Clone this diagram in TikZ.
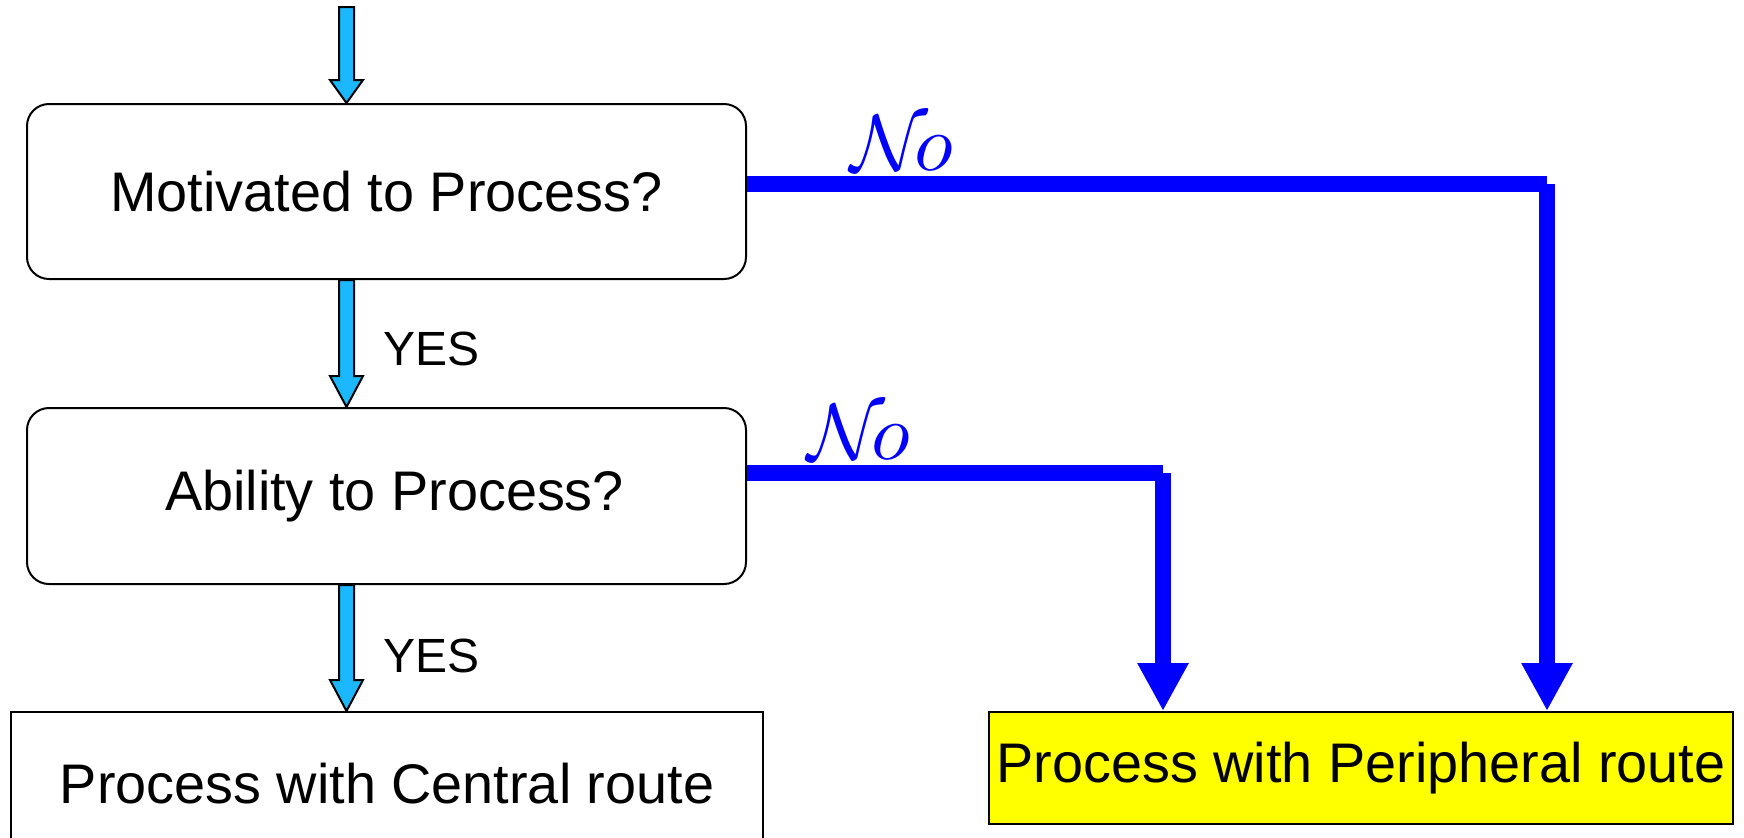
\documentclass[tikz,border=0pt]{standalone}
\usepackage{fontspec}
\setmainfont{Liberation Sans}
\usetikzlibrary{arrows.meta,calc}
\definecolor{skyblue}{RGB}{28,184,255}
\definecolor{pureblue}{RGB}{0,0,255}
\definecolor{brightyellow}{RGB}{255,255,0}

% outlined block arrow pointing down from #1 to #2; #3 = head length
\newcommand\feedarrow[3]{%
  \filldraw[lbarrow] let \p1=(#1), \p2=(#2) in
    (\x1-3.75pt,\y1) -- (\x1+3.75pt,\y1) -- (\x1+3.75pt,\y2+#3)
    -- (\x1+8.25pt,\y2+#3) -- (\x1,\y2) -- (\x1-8.25pt,\y2+#3)
    -- (\x1-3.75pt,\y2+#3) -- cycle;
}
% large calligraphic "No"
\newcommand\nolabeltext{\scalebox{4}{$\mathcal{N}\!o$}}

\begin{document}
\begin{tikzpicture}[x=0.5pt,y=-0.5pt,
  box/.style={draw=black, line width=1pt, inner sep=0pt, align=center,
              font=\fontsize{27.9}{33}\selectfont},
  decision/.style={box, rounded corners=11pt, minimum width=359.5pt, minimum height=87.5pt},
  outcome/.style={box, minimum width=376pt, minimum height=72pt},
  lbarrow/.style={fill=skyblue, draw=black, line width=1pt, line join=miter},
  noline/.style={draw=pureblue, line width=8pt},
  notip/.style={-{Triangle[width=24pt,length=24pt]}},
  yeslabel/.style={anchor=west, inner sep=0pt, font=\fontsize{24}{28}\selectfont},
  nolabel/.style={anchor=base west, inner sep=0pt, text=pureblue, font=\normalsize}
]
\useasboundingbox (0,0) rectangle (1744,837);
\clip (0,0) rectangle (1744,837);

% decision boxes
\node[decision] (mot) at (386.5,191.5) {Motivated to Process?};
\node[decision, minimum height=88pt] (abl) at (386.5,496) {\hspace*{8pt}Ability to Process?};

% outcome boxes
\node[outcome] (cen) at (387,784) {Process with Central route};
\node[outcome, fill=brightyellow, minimum width=372pt, minimum height=56pt] (per) at (1361,768)
  {Process with Peripheral route};

% incoming arrow and YES arrows
\coordinate (in) at (346.5,7);
\feedarrow{in}{mot.north}{11.5pt}
\feedarrow{mot.south -| in}{abl.north -| in}{15.5pt}
\feedarrow{abl.south -| in}{cen.north -| in}{15.5pt}

\node[yeslabel] (yes1) at (383,349) {YES};
\node[yeslabel] (yes2) at (383,656) {YES};

% NO branches
\coordinate (c1) at (1547,184);
\coordinate (c2) at (1163,473);
\draw[noline] (mot.east |- c1) -- (c1);
\draw[noline, notip] (c1) -- (c1 |- per.north);
\draw[noline] (abl.east |- c2) -- (c2);
\draw[noline, notip] (c2) -- (c2 |- per.north);

\node[nolabel] (no1) at (850,170) {\nolabeltext};
\node[nolabel] (no2) at (807,459) {\nolabeltext};
\end{tikzpicture}
\end{document}
